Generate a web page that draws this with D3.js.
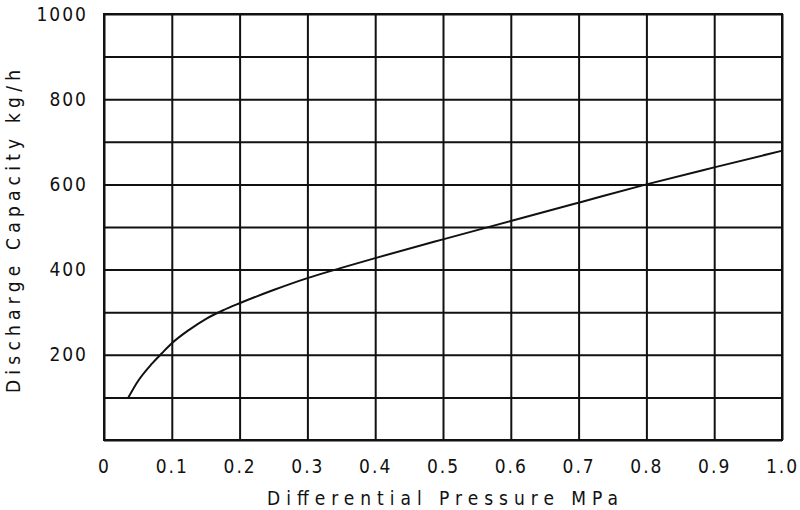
<!DOCTYPE html>
<html>
<head>
<meta charset="utf-8">
<script src="https://cdn.jsdelivr.net/npm/d3@7"></script>
<style>
  body { margin: 0; background: #fff; }
  text { font-family: "Liberation Sans Narrow", "DejaVu Sans Condensed", "Liberation Sans", sans-serif; fill: #111; }
</style>
</head>
<body>
<div id="chart"></div>
<script>
// differential pressure (MPa) vs discharge capacity (kg/h)
var pressure = [0.036, 0.05, 0.07, 0.085, 0.1, 0.125, 0.15, 0.175, 0.2, 0.25, 0.3, 0.35, 0.4, 0.5, 0.6, 0.7, 0.8, 0.9, 1.0];
var capacity = [100, 138, 178, 203, 227, 258, 284, 304, 321, 352, 380, 404, 427, 471, 514, 557, 600, 640, 679];

var xTicks = [0, 0.1, 0.2, 0.3, 0.4, 0.5, 0.6, 0.7, 0.8, 0.9, 1.0];
var xTickLabels = ["0", "0.1", "0.2", "0.3", "0.4", "0.5", "0.6", "0.7", "0.8", "0.9", "1.0"];
var yTicks = [0, 100, 200, 300, 400, 500, 600, 700, 800, 900, 1000];
var yTickLabels = ["", "", "200", "", "400", "", "600", "", "800", "", "1000"];

var w = 800, h = 510;
var plotL = 104, plotR = 782, plotT = 14, plotB = 440;

var svg = d3.select("#chart")
    .append("svg")
    .attr("width", w)
    .attr("height", h);

var x = d3.scaleLinear().domain([0, 1]).range([plotL, plotR]);
var y = d3.scaleLinear().domain([0, 1000]).range([plotB, plotT]);

// vertical grid lines + x labels
svg.append("g")
    .attr("transform", "translate(0," + plotB + ")")
    .call(d3.axisBottom(x)
        .tickValues(xTicks)
        .tickSize(-(plotB - plotT))
        .tickPadding(20)
        .tickFormat(function(d, i) { return xTickLabels[i]; }));

// horizontal grid lines + y labels
svg.append("g")
    .attr("transform", "translate(" + plotL + ",0)")
    .call(d3.axisLeft(y)
        .tickValues(yTicks)
        .tickSize(-(plotR - plotL))
        .tickPadding(16)
        .tickFormat(function(d, i) { return yTickLabels[i]; }));

svg.selectAll(".domain").remove();
svg.selectAll(".tick line")
    .style("stroke", "#111")
    .style("stroke-width", 2);
svg.selectAll(".tick text")
    .style("font-size", "19px")
    .style("letter-spacing", "2px")
    .style("fill", "#111");

// outer frame
svg.append("rect")
    .attr("x", plotL)
    .attr("y", plotT)
    .attr("width", plotR - plotL)
    .attr("height", plotB - plotT)
    .style("fill", "none")
    .style("stroke", "#111")
    .style("stroke-width", 2);

var pts = pressure.map(function(p, i) { return [p, capacity[i]]; });

var line = d3.line()
    .x(function(d) { return x(d[0]); })
    .y(function(d) { return y(d[1]); })
    .curve(d3.curveMonotoneX);

svg.append("path")
    .datum(pts)
    .attr("d", line)
    .style("fill", "none")
    .style("stroke", "#111")
    .style("stroke-width", 2);

// axis titles
svg.append("text")
    .attr("x", 267)
    .attr("y", 505)
    .attr("textLength", 351)
    .attr("lengthAdjust", "spacing")
    .style("font-size", "19px")
    .text("Differential Pressure MPa");

svg.append("text")
    .attr("transform", "translate(20,393) rotate(-90)")
    .attr("x", 0)
    .attr("y", 0)
    .attr("textLength", 323)
    .attr("lengthAdjust", "spacing")
    .style("font-size", "19px")
    .text("Discharge Capacity kg/h");
</script>
</body>
</html>
